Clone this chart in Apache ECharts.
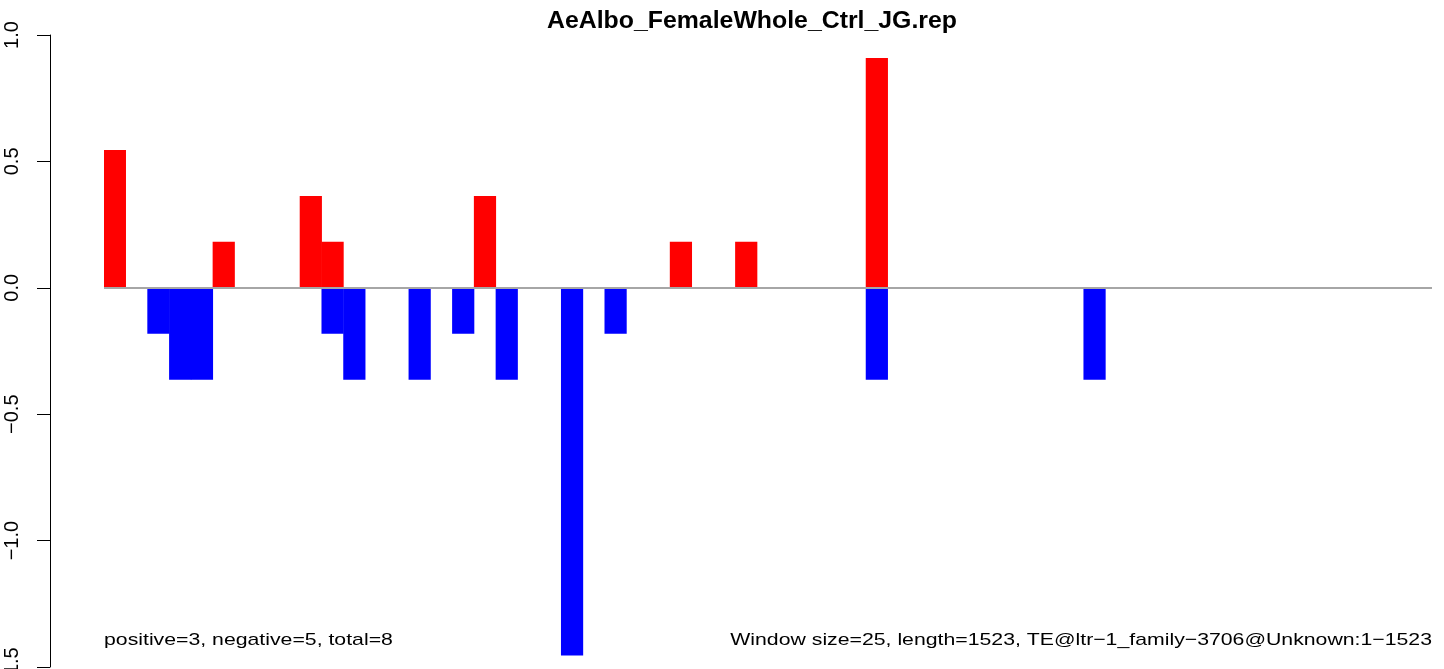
<!DOCTYPE html>
<html>
<head>
<meta charset="utf-8">
<script src="https://cdn.jsdelivr.net/npm/echarts@6/dist/echarts.min.js"></script>
<style>
html,body{margin:0;padding:0;background:#fff;}
#chart{width:1444px;height:669px;}
</style>
</head>
<body>
<div id="chart"></div>
<script>
// ---- data ----
const titleText = 'AeAlbo_FemaleWhole_Ctrl_JG.rep';
const leftNote = 'positive=3, negative=5, total=8';
const rightNote = 'Window size=25, length=1523, TE@ltr\u22121_family\u22123706@Unknown:1\u22121523';
const windowCount = 61;               // 1523 bp / 25 bp windows
const posWindows = [0, 5, 9, 10, 17, 26, 29, 35];
const posValues  = [0.5455, 0.1818, 0.3636, 0.1818, 0.3636, 0.1818, 0.1818, 0.9091];
const negWindows = [2, 3, 4, 10, 11, 14, 16, 18, 21, 23, 35, 45];
const negValues  = [-0.1818, -0.3636, -0.3636, -0.1818, -0.3636, -0.3636, -0.1818, -0.3636, -1.4545, -0.1818, -0.3636, -0.3636];
const yTicks = [-1.5, -1.0, -0.5, 0.0, 0.5, 1.0];

// ---- build ----
const categories = [];
for (let i = 0; i < windowCount; i++) categories.push(String(i * 25 + 1));
const posData = new Array(windowCount).fill(null);
posWindows.forEach((w, k) => { posData[w] = posValues[k]; });
const negData = new Array(windowCount).fill(null);
negWindows.forEach((w, k) => { negData[w] = negValues[k]; });

const FONT = '"Liberation Sans", Arial, Helvetica, sans-serif';
const chart = echarts.init(document.getElementById('chart'), null, {renderer: 'canvas'});
chart.setOption({
  animation: false,
  backgroundColor: '#ffffff',
  grid: {left: 104, right: 12, top: 35, bottom: 2, containLabel: false, outerBoundsMode: 'none'},
  xAxis: {
    type: 'category',
    data: categories,
    boundaryGap: true,
    show: false
  },
  yAxis: {
    type: 'value',
    min: yTicks[0],
    max: yTicks[yTicks.length - 1],
    interval: 0.5,
    offset: 54,
    splitLine: {show: false},
    axisLine: {show: true, lineStyle: {color: '#000', width: 1}},
    axisTick: {show: true, length: 13, lineStyle: {color: '#000', width: 1}},
    axisLabel: {
      rotate: 90,
      margin: 28,
      fontSize: 20,
      fontFamily: FONT,
      color: '#000',
      showMinLabel: true,
      showMaxLabel: true,
      hideOverlap: false,
      formatter: v => (v < 0 ? '\u2212' : '') + Math.abs(v).toFixed(1)
    }
  },
  series: [
    {
      name: 'positive',
      type: 'bar',
      data: posData,
      barWidth: '102%',
      barGap: '-100%',
      itemStyle: {color: '#ff0000'},
      silent: true,
      markLine: {
        silent: true,
        symbol: ['none', 'none'],
        label: {show: false},
        lineStyle: {color: '#a6a6a6', width: 2, type: 'solid'},
        data: [{yAxis: 0}]
      }
    },
    {
      name: 'negative',
      type: 'bar',
      data: negData,
      barWidth: '102%',
      barGap: '-100%',
      itemStyle: {color: '#0000ff'},
      silent: true
    }
  ],
  graphic: [
    {
      type: 'text', x: 752, y: 22, scaleX: 1.08, z: 100,
      style: {text: titleText, font: 'bold 23px ' + FONT, fill: '#000',
              textAlign: 'center', align: 'center', textVerticalAlign: 'middle', verticalAlign: 'middle'}
    },
    {
      type: 'text', x: 104, y: 640.5, scaleX: 1.25, z: 100,
      style: {text: leftNote, font: '17px ' + FONT, fill: '#000',
              textAlign: 'left', align: 'left', textVerticalAlign: 'middle', verticalAlign: 'middle'}
    },
    {
      type: 'text', x: 1432, y: 640, scaleX: 1.25, z: 100,
      style: {text: rightNote, font: '17px ' + FONT, fill: '#000',
              textAlign: 'right', align: 'right', textVerticalAlign: 'middle', verticalAlign: 'middle'}
    }
  ]
});
</script>
</body>
</html>
